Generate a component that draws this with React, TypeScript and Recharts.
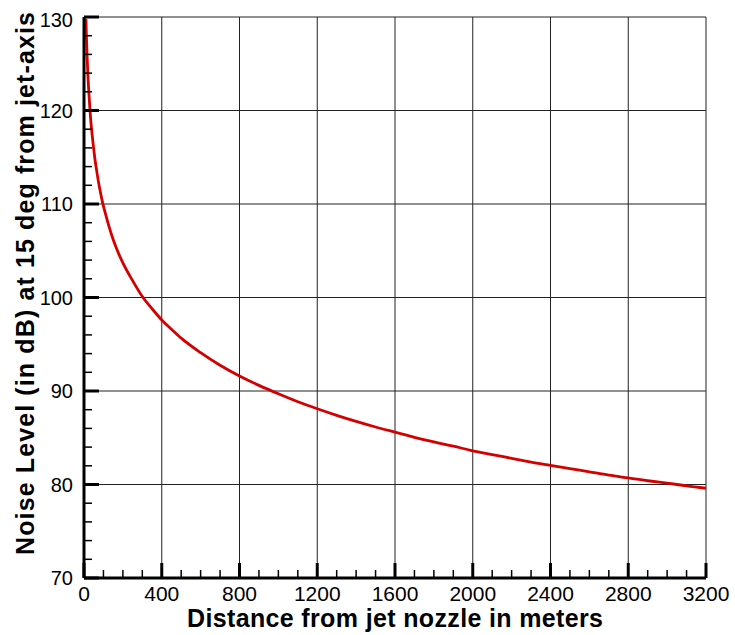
import React from "react";
import { LineChart, Line, XAxis, YAxis, ReferenceLine, Label } from "recharts";

const distances = [10, 12, 15, 20, 25, 31, 35, 40, 45, 50, 55, 65, 75, 85, 95, 110, 130, 150, 170, 200, 250, 300, 350, 400, 450, 500, 600, 700, 800, 900, 1000, 1100, 1200, 1300, 1400, 1500, 1600, 1700, 1800, 1900, 2000, 2100, 2200, 2300, 2400, 2500, 2600, 2700, 2800, 2900, 3000, 3100, 3200];
const noiseLevels = [129.8, 128.2, 126.3, 123.8, 121.9, 120.0, 118.9, 117.8, 116.8, 115.9, 115.0, 113.6, 112.3, 111.2, 110.2, 109.0, 107.5, 106.2, 105.1, 103.7, 101.8, 100.1, 98.8, 97.6, 96.6, 95.65, 94.1, 92.75, 91.6, 90.6, 89.7, 88.85, 88.1, 87.4, 86.75, 86.15, 85.6, 85.05, 84.55, 84.1, 83.6, 83.2, 82.8, 82.4, 82.05, 81.7, 81.35, 81.0, 80.7, 80.4, 80.15, 79.85, 79.6];

const xTicks = [0, 100, 200, 300, 400, 500, 600, 700, 800, 900, 1000, 1100, 1200, 1300, 1400, 1500, 1600, 1700, 1800, 1900, 2000, 2100, 2200, 2300, 2400, 2500, 2600, 2700, 2800, 2900, 3000, 3100, 3200];
const xMajor = [0, 400, 800, 1200, 1600, 2000, 2400, 2800, 3200];
const yTicks = [70, 72, 74, 76, 78, 80, 82, 84, 86, 88, 90, 92, 94, 96, 98, 100, 102, 104, 106, 108, 110, 112, 114, 116, 118, 120, 122, 124, 126, 128, 130];
const yMajor = [70, 80, 90, 100, 110, 120, 130];

const xTitle = "Distance from jet nozzle in meters";
const yTitle = "Noise Level (in dB) at 15 deg from jet-axis";

const data = distances.map((d, i) => ({ d, v: noiseLevels[i] }));

const FONT = "'Liberation Sans', Arial, Helvetica, sans-serif";

const YTick = (props: any) => {
  const { x, y, payload } = props;
  const v = payload.value;
  const major = yMajor.includes(v);
  return (
    <g>
      <line x1={x} x2={x + (major ? 15 : 8)} y1={y} y2={y} stroke="#000" strokeWidth={major ? 3 : 1.5} />
      {major && (
        <text x={x - 11} y={v === 130 ? y + 10 : y + 7} textAnchor="end" fontSize={20} fontFamily={FONT} fill="#000">
          {v}
        </text>
      )}
    </g>
  );
};

const XTick = (props: any) => {
  const { x, y, payload } = props;
  const v = payload.value;
  const major = xMajor.includes(v);
  return (
    <g>
      <line x1={x} x2={x} y1={y} y2={y - (major ? 15 : 8)} stroke="#000" strokeWidth={major ? 3 : 1.5} />
      {major && (
        <text x={x} y={y + 23} textAnchor="middle" fontSize={21} fontFamily={FONT} fill="#000">
          {v}
        </text>
      )}
    </g>
  );
};

const XTitle = (props: any) => {
  const vb = props.viewBox;
  return (
    <text
      x={vb.x + vb.width / 2}
      y={vb.y + 48.5}
      textAnchor="middle"
      fontSize={25}
      fontWeight="bold"
      fontFamily={FONT}
      fill="#000"
      textLength={416}
      lengthAdjust="spacing"
    >
      {xTitle}
    </text>
  );
};

const YTitle = (props: any) => {
  const vb = props.viewBox;
  const cx = vb.x + 10;
  const cy = vb.y + vb.height / 2 - 14;
  return (
    <text
      x={cx}
      y={cy}
      transform={`rotate(-90 ${cx} ${cy})`}
      textAnchor="middle"
      fontSize={25}
      fontWeight="bold"
      fontFamily={FONT}
      fill="#000"
      textLength={543}
      lengthAdjust="spacing"
    >
      {yTitle}
    </text>
  );
};

export default function App() {
  return (
    <div style={{ position: "absolute", left: 0, top: 0, background: "#fff" }}>
      <LineChart width={735} height={635} data={data} margin={{ top: 17, right: 29, bottom: 17, left: 24 }}>
        {xMajor.slice(1).map((v) => (
          <ReferenceLine key={"vx" + v} x={v} stroke="#222" strokeWidth={1} />
        ))}
        {yMajor.slice(1).map((v) => (
          <ReferenceLine key={"hy" + v} y={v} stroke="#222" strokeWidth={1} />
        ))}
        <XAxis
          dataKey="d"
          type="number"
          domain={[0, 3200]}
          ticks={xTicks}
          interval={0}
          height={40}
          tickSize={0}
          tickMargin={0}
          tickLine={false}
          axisLine={{ stroke: "#000", strokeWidth: 3 }}
          tick={<XTick />}
          allowDataOverflow
        >
          <Label content={<XTitle />} />
        </XAxis>
        <YAxis
          type="number"
          domain={[70, 130]}
          ticks={yTicks}
          interval={0}
          width={60}
          tickSize={0}
          tickMargin={0}
          tickLine={false}
          axisLine={{ stroke: "#000", strokeWidth: 3 }}
          tick={<YTick />}
          allowDataOverflow
        >
          <Label content={<YTitle />} />
        </YAxis>
        <Line
          type="monotone"
          dataKey="v"
          stroke="#d40000"
          strokeWidth={2.8}
          dot={false}
          isAnimationActive={false}
        />
      </LineChart>
    </div>
  );
}
